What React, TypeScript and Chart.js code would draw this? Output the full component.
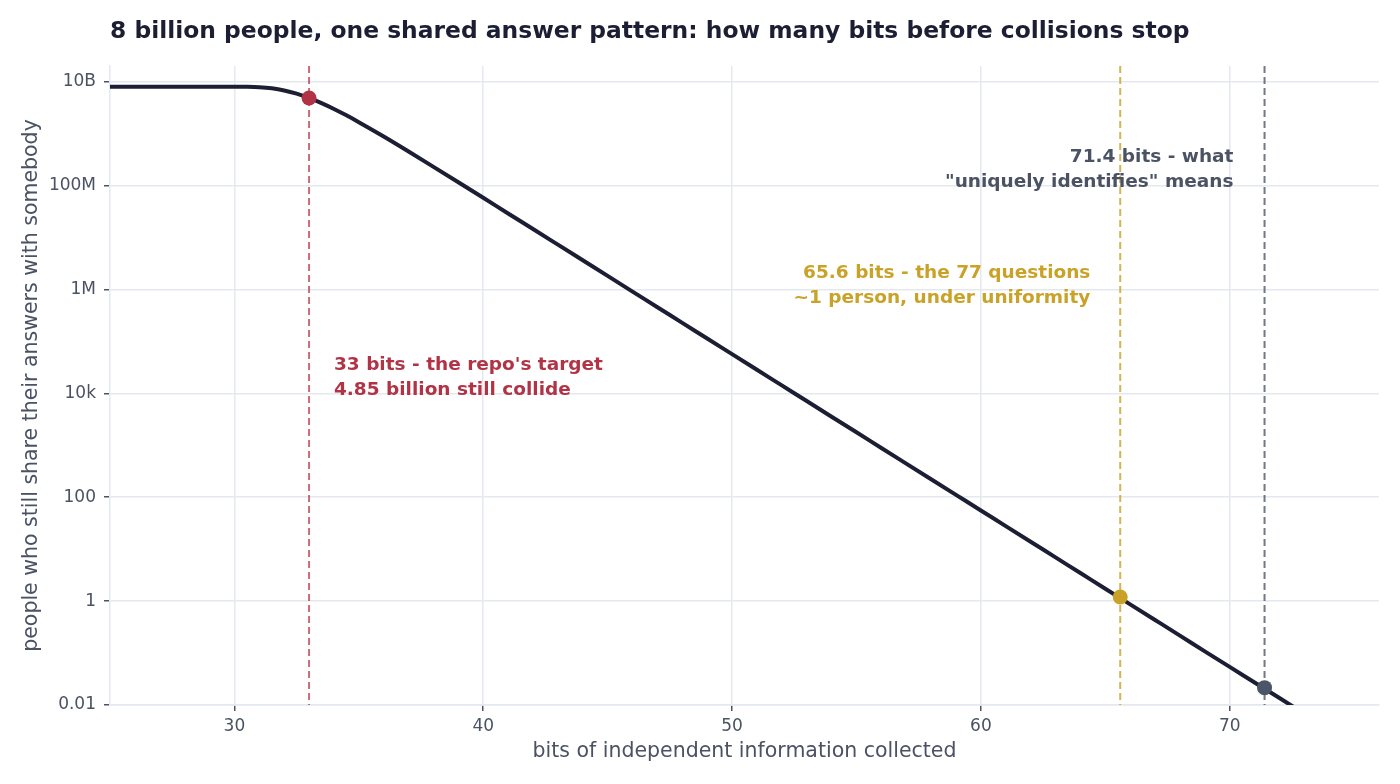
import React, { useEffect, useRef } from "react";
import { Chart, registerables } from "chart.js";

Chart.register(...registerables);

// ---- data ----
const bits: number[] = [25, 26, 27, 28, 29, 30, 30.5, 31, 31.5, 32, 32.5, 33, 33.5, 34, 34.5, 35, 36, 37, 38, 39, 40, 41, 42, 43, 44, 45, 46, 47, 48, 49, 50, 51, 52, 53, 54, 55, 56, 57, 58, 59, 60, 61, 62, 63, 64, 65, 66, 67, 68, 69, 70, 71, 72, 73];
const peopleColliding: number[] = [8.0e9, 8.0e9, 8.0e9, 8.0e9, 8.0e9, 7.995e9, 7.96e9, 7.81e9, 7.43e9, 6.76e9, 5.86e9, 4.85e9, 3.86e9, 2.98e9, 2.245e9, 1.66e9, 8.79e8, 4.52e8, 2.29e8, 1.156e8, 5.8e7, 2.9e7, 1.455e7, 7.28e6, 3.64e6, 1.82e6, 9.09e5, 4.55e5, 2.27e5, 1.137e5, 5.68e4, 2.84e4, 1.42e4, 7.1e3, 3.55e3, 1.78e3, 888, 444, 222, 111, 55.5, 27.8, 13.9, 6.94, 3.47, 1.73, 0.867, 0.434, 0.217, 0.108, 0.0542, 0.0271, 0.0136, 0.0068];

const markerBits: number[] = [33, 65.6, 71.4];
const markerPeople: number[] = [4.85e9, 1.2, 0.0216];
const markerColors: string[] = ["#b13446", "#c9a227", "#4a5568"];
const dashColors: string[] = ["rgba(177,52,70,0.72)", "rgba(201,162,39,0.8)", "rgba(74,82,99,0.78)"];

const noteLines: string[][] = [
  ["33 bits - the repo's target", "4.85 billion still collide"],
  ["65.6 bits - the 77 questions", "~1 person, under uniformity"],
  ["71.4 bits - what", "\"uniquely identifies\" means"],
];
const noteX: number[] = [34, 64.4, 70.15];
const noteY: number[] = [2.0e4, 1.2e6, 2.0e8];
const noteAlign: CanvasTextAlign[] = ["left", "right", "right"];

const xTicks: number[] = [30, 40, 50, 60, 70];
const yTicks: number[] = [0.01, 1, 100, 1e4, 1e6, 1e8, 1e10];
const yTickLabels: string[] = ["0.01", "1", "100", "10k", "1M", "100M", "10B"];

const titleText = "8 billion people, one shared answer pattern: how many bits before collisions stop";
const xTitle = "bits of independent information collected";
const yTitle = "people who still share their answers with somebody";

const FONT = "'DejaVu Sans', 'Noto Sans', sans-serif";
const GRID = "#e4e8ef";
const TEXT = "#4a5263";

export default function App() {
  const ref = useRef<HTMLCanvasElement | null>(null);

  useEffect(() => {
    if (!ref.current) return;
    const overlay = {
      id: "overlay",
      beforeDatasetsDraw(chart: any) {
        const { ctx, chartArea, scales } = chart;
        ctx.save();
        ctx.lineWidth = 2;
        ctx.setLineDash([7, 4]);
        markerBits.forEach((b, i) => {
          const px = scales.x.getPixelForValue(b);
          ctx.strokeStyle = dashColors[i];
          ctx.beginPath();
          ctx.moveTo(px, chartArea.top);
          ctx.lineTo(px, chartArea.bottom);
          ctx.stroke();
        });
        ctx.restore();
      },
      afterDatasetsDraw(chart: any) {
        const { ctx, chartArea, scales } = chart;
        ctx.save();
        ctx.font = `bold 18.5px ${FONT}`;
        ctx.textBaseline = "middle";
        noteLines.forEach((lines, i) => {
          const px = scales.x.getPixelForValue(noteX[i]);
          const py = scales.y.getPixelForValue(noteY[i]);
          ctx.fillStyle = i === 2 ? TEXT : markerColors[i];
          ctx.textAlign = noteAlign[i];
          const lh = 25;
          lines.forEach((t, j) => {
            ctx.fillText(t, px, py + (j - (lines.length - 1) / 2) * lh);
          });
        });
        // title
        ctx.font = `bold 23.4px ${FONT}`;
        ctx.fillStyle = "#1c1f33";
        ctx.textAlign = "left";
        ctx.textBaseline = "middle";
        ctx.fillText(titleText, chartArea.left, 32);
        ctx.restore();
      },
    };

    const chart = new Chart(ref.current, {
      type: "line",
      data: {
        datasets: [
          {
            type: "scatter",
            label: "markers",
            data: markerBits.map((b, i) => ({ x: b, y: markerPeople[i] })),
            backgroundColor: markerColors,
            borderColor: markerColors,
            pointRadius: 7.5,
            pointBorderWidth: 0,
            order: 0,
          } as any,
          {
            type: "line",
            label: "curve",
            data: bits.map((b, i) => ({ x: b, y: peopleColliding[i] })),
            borderColor: "#1c1f33",
            borderWidth: 4,
            pointRadius: 0,
            cubicInterpolationMode: "monotone",
            fill: false,
            clip: 0,
            order: 1,
          } as any,
        ],
      },
      options: {
        animation: false,
        responsive: false,
        devicePixelRatio: 1,
        layout: { padding: { top: 66, right: 21, bottom: 0, left: 0 } },
        plugins: {
          legend: { display: false },
          tooltip: { enabled: false },
          title: { display: false },
        },
        scales: {
          x: {
            type: "linear",
            min: 25,
            max: 76,
            afterFit: (s: any) => {
              s.height = 79;
            },
            afterBuildTicks: (s: any) => {
              s.ticks = xTicks.map((v) => ({ value: v }));
            },
            ticks: {
              color: TEXT,
              font: { family: FONT, size: 17 },
              padding: 5,
              maxRotation: 0,
              callback: (v: any) => String(v),
            },
            grid: {
              color: GRID,
              lineWidth: 1.5,
              drawTicks: true,
              tickLength: 6,
              tickColor: TEXT,
              tickWidth: 1.5,
            },
            border: { display: true, color: GRID, width: 1.5 },
            title: {
              display: true,
              text: xTitle,
              color: TEXT,
              font: { family: FONT, size: 20.5, lineHeight: 1 },
              padding: { top: 0, bottom: 22 },
            },
          },
          y: {
            type: "logarithmic",
            min: 0.01,
            max: 2e10,
            afterFit: (s: any) => {
              s.width = 110;
            },
            afterBuildTicks: (s: any) => {
              s.ticks = yTicks.map((v) => ({ value: v }));
            },
            ticks: {
              color: TEXT,
              font: { family: FONT, size: 17 },
              padding: 8,
              autoSkip: false,
              callback: (v: any) => {
                const idx = yTicks.findIndex((t) => Math.abs(Math.log10(t) - Math.log10(v)) < 1e-6);
                return idx >= 0 ? yTickLabels[idx] : "";
              },
            },
            grid: {
              color: GRID,
              lineWidth: 1.5,
              drawTicks: true,
              tickLength: 6,
              tickColor: TEXT,
              tickWidth: 1.5,
            },
            border: { display: true, color: GRID, width: 1.5 },
            title: {
              display: true,
              text: yTitle,
              color: TEXT,
              font: { family: FONT, size: 20.5, lineHeight: 1 },
              padding: { top: 21, bottom: 0 },
            },
          },
        },
      },
      plugins: [overlay],
    } as any);
    return () => chart.destroy();
  }, []);

  return (
    <div style={{ position: "fixed", left: 0, top: 0, width: 1400, height: 784, background: "#ffffff" }}>
      <canvas ref={ref} width={1400} height={784} style={{ display: "block", width: 1400, height: 784 }} />
    </div>
  );
}
